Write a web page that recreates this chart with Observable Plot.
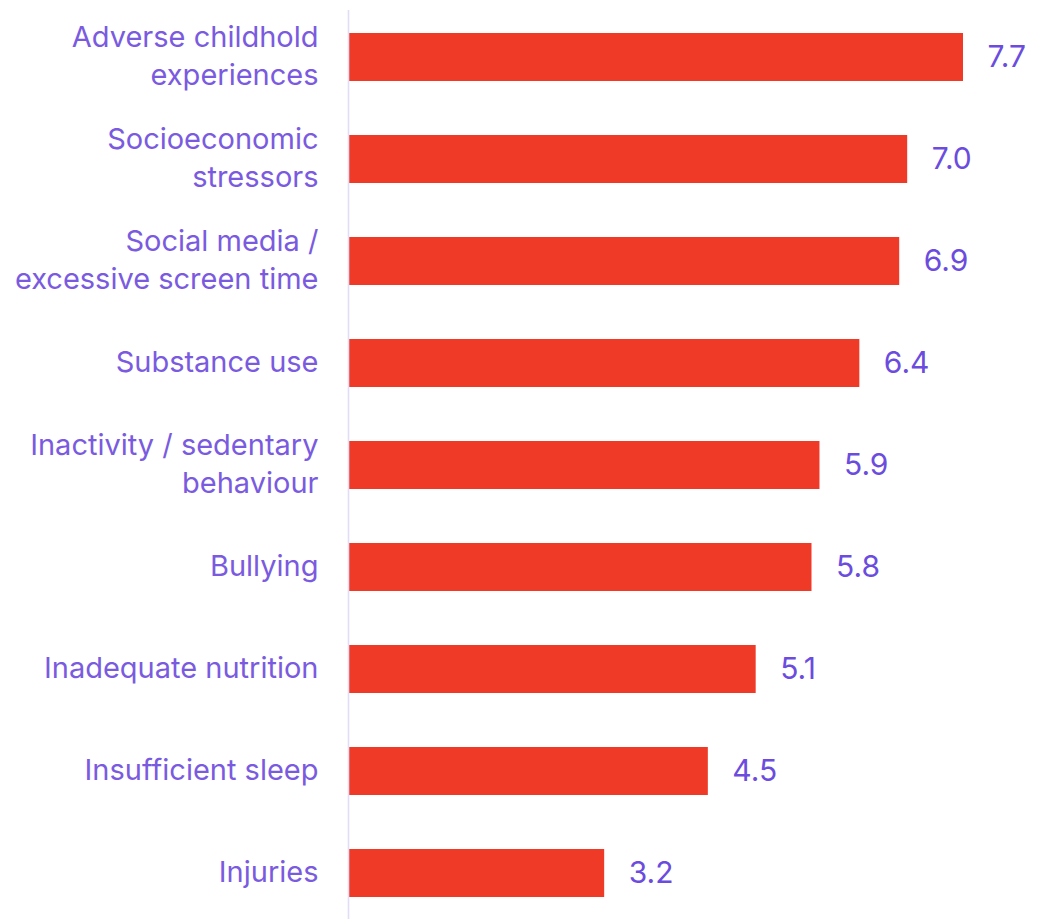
<!DOCTYPE html>
<html>
<head>
<meta charset="utf-8">
<script src="https://cdn.jsdelivr.net/npm/d3@7"></script>
<script src="https://cdn.jsdelivr.net/npm/@observablehq/plot@0.6"></script>
<style>
  html, body { margin: 0; padding: 0; background: #ffffff; }
  #chart { width: 1048px; height: 919px; }
</style>
</head>
<body>
<div id="chart"></div>
<script>
const categories = [
  "Adverse childhold\nexperiences",
  "Socioeconomic\nstressors",
  "Social media /\nexcessive screen time",
  "Substance use",
  "Inactivity / sedentary\nbehaviour",
  "Bullying",
  "Inadequate nutrition",
  "Insufficient sleep",
  "Injuries"
];
const values = [7.7, 7.0, 6.9, 6.4, 5.9, 5.8, 5.1, 4.5, 3.2];

const data = categories.map((c, i) => ({category: c, value: values[i]}));

const labelColor = "#7A5BDF";
const valueColor = "#6B4CDE";
const barColor = "#EE3A26";
const font = "Inter, 'Open Sans', sans-serif";

const chart = Plot.plot({
  width: 1048,
  height: 919,
  marginLeft: 349,
  marginRight: 85,
  marginTop: 10,
  marginBottom: 0,
  style: {fontFamily: font, background: "#ffffff"},
  x: {domain: [0, 7.7], axis: null},
  y: {domain: categories, axis: null, paddingInner: 0.53, paddingOuter: 0.2166},
  marks: [
    Plot.barX(data, {x: "value", y: "category", fill: barColor}),
    Plot.ruleX([0], {stroke: "#E2DCF8", strokeWidth: 1.6, dx: -1}),
    Plot.text(data, {
      x: 0, y: "category", text: "category",
      textAnchor: "end", dx: -31, dy: -4, lineHeight: 1.32,
      fill: labelColor, fontSize: 29
    }),
    Plot.text(data, {
      x: "value", y: "category", text: d => d.value.toFixed(1),
      textAnchor: "start", dx: 24, dy: 0,
      fill: valueColor, fontSize: 30
    })
  ]
});
document.getElementById("chart").appendChild(chart);
</script>
</body>
</html>
